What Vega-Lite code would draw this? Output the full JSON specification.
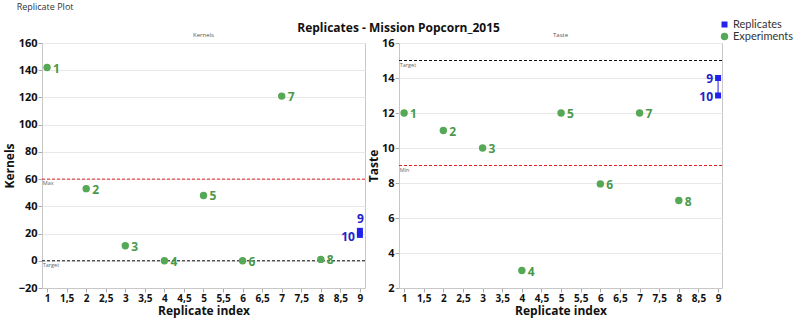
{
  "$schema": "https://vega.github.io/schema/vega-lite/v6.json",
  "background": "white",
  "padding": {"left": 2, "top": 2, "right": 2, "bottom": 2},
  "config": {
    "font": "Open Sans",
    "view": {"stroke": "#c8c8c8"},
    "axis": {
      "labelFont": "Open Sans", "labelFontWeight": "bold", "labelFontSize": 11, "labelColor": "#111",
      "titleFont": "Open Sans", "titleFontWeight": "bold", "titleFontSize": 12, "titleColor": "#111",
      "domainColor": "#c8c8c8", "tickColor": "#aaa", "gridColor": "#e8e8e8",
      "labelOverlap": false, "labelBound": false, "tickSize": 4, "labelPadding": 1
    },
    "axisX": {"labelFontSize": 10},
    "legend": {"labelFont": "Lato", "labelFontSize": 11, "labelColor": "#333"}
  },
  "datasets": {
    "kernels": [
      {"idx": 1, "value": 142, "label": "1", "series": "Experiments"},
      {"idx": 2, "value": 53, "label": "2", "series": "Experiments"},
      {"idx": 3, "value": 11, "label": "3", "series": "Experiments"},
      {"idx": 4, "value": 0, "label": "4", "series": "Experiments"},
      {"idx": 5, "value": 48, "label": "5", "series": "Experiments"},
      {"idx": 6, "value": 0, "label": "6", "series": "Experiments"},
      {"idx": 7, "value": 121, "label": "7", "series": "Experiments"},
      {"idx": 8, "value": 1, "label": "8", "series": "Experiments"},
      {"idx": 9, "value": 22, "label": "9", "series": "Replicates"},
      {"idx": 9, "value": 19, "label": "10", "series": "Replicates"}
    ],
    "taste": [
      {"idx": 1, "value": 12, "label": "1", "series": "Experiments"},
      {"idx": 2, "value": 11, "label": "2", "series": "Experiments"},
      {"idx": 3, "value": 10, "label": "3", "series": "Experiments"},
      {"idx": 4, "value": 3, "label": "4", "series": "Experiments"},
      {"idx": 5, "value": 12, "label": "5", "series": "Experiments"},
      {"idx": 6, "value": 7.95, "label": "6", "series": "Experiments"},
      {"idx": 7, "value": 12, "label": "7", "series": "Experiments"},
      {"idx": 8, "value": 7, "label": "8", "series": "Experiments"},
      {"idx": 9, "value": 14, "label": "9", "series": "Replicates"},
      {"idx": 9, "value": 13, "label": "10", "series": "Replicates"}
    ],
    "refs": [
      {"panel": "Kernels", "value": 60, "kind": "Max"},
      {"panel": "Kernels", "value": 0, "kind": "Target"},
      {"panel": "Taste", "value": 15, "kind": "Target"},
      {"panel": "Taste", "value": 9, "kind": "Min"}
    ]
  },
  "title": {"text": "Replicate Plot", "anchor": "start", "fontSize": 9, "fontWeight": "normal", "color": "#333", "offset": 7, "dx": 14},
  "vconcat": [
    {
      "title": {"text": "Replicates - Mission Popcorn_2015", "fontSize": 12, "fontWeight": "bold", "anchor": "middle", "color": "#111", "offset": -16},
      "spacing": 0,
      "resolve": {"scale": {"color": "independent", "shape": "independent", "size": "independent"}, "legend": {"color": "independent", "shape": "independent", "size": "independent"}},
      "hconcat": [
        {
          "width": 323, "height": 245,
          "title": {"text": "Kernels", "fontSize": 6, "fontWeight": "normal", "color": "#555", "offset": -1},
          "layer": [
            {
              "data": {"name": "refs"},
              "transform": [{"filter": "datum.panel == 'Kernels' && datum.kind != 'Target'"}],
              "mark": {"type": "rule", "color": "#e02020", "strokeDash": [3, 2], "strokeWidth": 1},
              "encoding": {"y": {"field": "value", "type": "quantitative"}}
            },
            {
              "data": {"name": "refs"},
              "transform": [{"filter": "datum.panel == 'Kernels' && datum.kind == 'Target'"}],
              "mark": {"type": "rule", "color": "#111", "strokeDash": [3, 2], "strokeWidth": 1},
              "encoding": {"y": {"field": "value", "type": "quantitative"}}
            },
            {
              "data": {"name": "refs"},
              "transform": [{"filter": "datum.panel == 'Kernels'"}],
              "mark": {"type": "text", "align": "left", "baseline": "top", "dy": 2, "fontSize": 5.5, "color": "#666"},
              "encoding": {
                "x": {"datum": 0.89, "type": "quantitative"},
                "y": {"field": "value", "type": "quantitative"},
                "text": {"field": "kind"}
              }
            },
            {
              "data": {"name": "kernels"},
              "transform": [{"filter": "datum.series == 'Replicates'"}],
              "mark": {"type": "line", "color": "#2222dd", "strokeWidth": 1},
              "encoding": {
                "x": {"field": "idx", "type": "quantitative"},
                "y": {"field": "value", "type": "quantitative"}
              }
            },
            {
              "data": {"name": "kernels"},
              "mark": {"type": "point", "filled": true, "opacity": 1},
              "encoding": {
                "x": {"field": "idx", "type": "quantitative",
                  "scale": {"domain": [0.87, 9.13], "nice": false, "zero": false},
                  "axis": {"title": "Replicate index", "grid": false, "labelOverlap": false, "tickCount": 40, "values": [1, 1.5, 2, 2.5, 3, 3.5, 4, 4.5, 5, 5.5, 6, 6.5, 7, 7.5, 8, 8.5, 9],
                    "labelExpr": "replace(toString(datum.value), '.', ',')", "labelFlush": false, "titlePadding": 2}},
                "y": {"field": "value", "type": "quantitative",
                  "scale": {"domain": [-20, 160], "nice": false, "zero": false},
                  "axis": {"title": "Kernels", "grid": true, "labelOverlap": false, "tickCount": 40, "format": "d", "values": [-20, 0, 20, 40, 60, 80, 100, 120, 140, 160], "titlePadding": 2}},
                "color": {"field": "series", "type": "nominal", "scale": {"domain": ["Replicates", "Experiments"], "range": ["#2222ee", "#55a855"]}, "legend": null},
                "shape": {"field": "series", "type": "nominal", "scale": {"domain": ["Replicates", "Experiments"], "range": ["square", "circle"]}, "legend": null},
                "size": {"field": "series", "type": "nominal", "scale": {"domain": ["Replicates", "Experiments"], "range": [36, 55]}, "legend": null}
              }
            },
            {
              "data": {"name": "kernels"},
              "transform": [{"filter": "datum.series == 'Experiments'"}],
              "mark": {"type": "text", "align": "left", "baseline": "middle", "dx": 6, "dy": 1, "fontSize": 12, "fontWeight": "bold", "color": "#4a994a"},
              "encoding": {
                "x": {"field": "idx", "type": "quantitative"},
                "y": {"field": "value", "type": "quantitative"},
                "text": {"field": "label"}
              }
            },
            {
              "data": {"name": "kernels"},
              "transform": [{"filter": "datum.label == '9'"}],
              "mark": {"type": "text", "align": "right", "baseline": "bottom", "dx": 4, "dy": -5, "fontSize": 12, "fontWeight": "bold", "color": "#2222cc"},
              "encoding": {
                "x": {"field": "idx", "type": "quantitative"},
                "y": {"field": "value", "type": "quantitative"},
                "text": {"field": "label"}
              }
            },
            {
              "data": {"name": "kernels"},
              "transform": [{"filter": "datum.label == '10'"}],
              "mark": {"type": "text", "align": "right", "baseline": "middle", "dx": -5, "dy": 2, "fontSize": 12, "fontWeight": "bold", "color": "#2222cc"},
              "encoding": {
                "x": {"field": "idx", "type": "quantitative"},
                "y": {"field": "value", "type": "quantitative"},
                "text": {"field": "label"}
              }
            }
          ]
        },
        {
          "width": 323, "height": 245,
          "title": {"text": "Taste", "fontSize": 6, "fontWeight": "normal", "color": "#555", "offset": -19},
          "layer": [
            {
              "data": {"name": "refs"},
              "transform": [{"filter": "datum.panel == 'Taste' && datum.kind != 'Target'"}],
              "mark": {"type": "rule", "color": "#e02020", "strokeDash": [3, 2], "strokeWidth": 1},
              "encoding": {"y": {"field": "value", "type": "quantitative"}}
            },
            {
              "data": {"name": "refs"},
              "transform": [{"filter": "datum.panel == 'Taste' && datum.kind == 'Target'"}],
              "mark": {"type": "rule", "color": "#111", "strokeDash": [3, 2], "strokeWidth": 1},
              "encoding": {"y": {"field": "value", "type": "quantitative"}}
            },
            {
              "data": {"name": "refs"},
              "transform": [{"filter": "datum.panel == 'Taste'"}],
              "mark": {"type": "text", "align": "left", "baseline": "top", "dy": 2, "fontSize": 5.5, "color": "#666"},
              "encoding": {
                "x": {"datum": 0.89, "type": "quantitative"},
                "y": {"field": "value", "type": "quantitative"},
                "text": {"field": "kind"}
              }
            },
            {
              "data": {"name": "taste"},
              "transform": [{"filter": "datum.series == 'Replicates'"}],
              "mark": {"type": "line", "color": "#2222dd", "strokeWidth": 1},
              "encoding": {
                "x": {"field": "idx", "type": "quantitative"},
                "y": {"field": "value", "type": "quantitative"}
              }
            },
            {
              "data": {"name": "taste"},
              "mark": {"type": "point", "filled": true, "opacity": 1},
              "encoding": {
                "x": {"field": "idx", "type": "quantitative",
                  "scale": {"domain": [0.87, 9.1], "nice": false, "zero": false},
                  "axis": {"title": "Replicate index", "grid": false, "labelOverlap": false, "tickCount": 40, "values": [1, 1.5, 2, 2.5, 3, 3.5, 4, 4.5, 5, 5.5, 6, 6.5, 7, 7.5, 8, 8.5, 9],
                    "labelExpr": "replace(toString(datum.value), '.', ',')", "labelFlush": false, "titlePadding": 2}},
                "y": {"field": "value", "type": "quantitative",
                  "scale": {"domain": [2, 16], "nice": false, "zero": false},
                  "axis": {"title": "Taste", "grid": true, "labelOverlap": false, "tickCount": 40, "format": "d", "values": [2, 4, 6, 8, 10, 12, 14, 16], "titlePadding": 1}},
                "color": {"field": "series", "type": "nominal", "scale": {"domain": ["Replicates", "Experiments"], "range": ["#2222ee", "#55a855"]},
                  "legend": {"title": null, "orient": "none", "legendX": 320, "legendY": -24, "rowPadding": 0, "symbolSize": 50, "labelOffset": 3,
                    "encode": {"symbols": {"update": {
                      "shape": {"signal": "datum.value == 'Replicates' ? 'M-1.2,-0.22H1.2V0.22H-1.2Z M-0.55,-0.55H0.55V0.55H-0.55Z' : 'circle'"},
                      "size": {"signal": "datum.value == 'Replicates' ? 64 : 42"}}}}}},
                "shape": {"field": "series", "type": "nominal", "scale": {"domain": ["Replicates", "Experiments"], "range": ["square", "circle"]}},
                "size": {"field": "series", "type": "nominal", "scale": {"domain": ["Replicates", "Experiments"], "range": [36, 55]}}
              }
            },
            {
              "data": {"name": "taste"},
              "transform": [{"filter": "datum.series == 'Experiments'"}],
              "mark": {"type": "text", "align": "left", "baseline": "middle", "dx": 6, "dy": 1, "fontSize": 12, "fontWeight": "bold", "color": "#4a994a"},
              "encoding": {
                "x": {"field": "idx", "type": "quantitative"},
                "y": {"field": "value", "type": "quantitative"},
                "text": {"field": "label"}
              }
            },
            {
              "data": {"name": "taste"},
              "transform": [{"filter": "datum.series == 'Replicates'"}],
              "mark": {"type": "text", "align": "right", "baseline": "middle", "dx": -5, "dy": 1, "fontSize": 12, "fontWeight": "bold", "color": "#2222cc"},
              "encoding": {
                "x": {"field": "idx", "type": "quantitative"},
                "y": {"field": "value", "type": "quantitative"},
                "text": {"field": "label"}
              }
            }
          ]
        }
      ]
    }
  ]
}
